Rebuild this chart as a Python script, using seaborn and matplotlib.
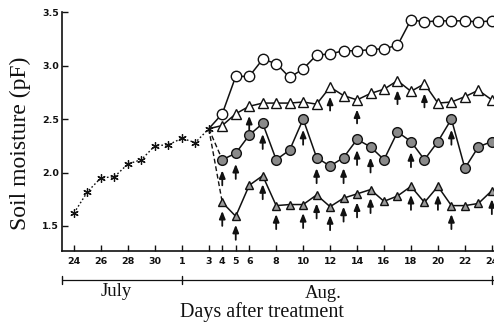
import matplotlib
matplotlib.use("Agg")
import matplotlib.pyplot as plt
import matplotlib.transforms as mtransforms
import seaborn as sns
import pandas as pd

# Day index counted from 24 July (24 Jul = 0, 1 Aug = 8, 24 Aug = 31)
tick_days = [0, 2, 4, 6, 8, 10, 11, 12, 13, 15, 17, 19, 21, 23, 25, 27, 29, 31]
tick_labels = ["24", "26", "28", "30", "1", "3", "4", "5", "6", "8", "10",
               "12", "14", "16", "18", "20", "22", "24"]

# Pre-treatment period (24 Jul - 3 Aug)
pre_days = list(range(0, 11))
pre_vals = [1.62, 1.82, 1.95, 1.96, 2.08, 2.12, 2.25, 2.26, 2.32, 2.28, 2.41]

# Treatments (3 Aug - 24 Aug); first value is the shared 3 Aug reading
trt_days = list(range(10, 32))
open_circle = [2.41, 2.55, 2.90, 2.90, 3.06, 3.02, 2.89, 2.97, 3.10, 3.11, 3.14,
               3.14, 3.15, 3.16, 3.19, 3.43, 3.41, 3.42, 3.42, 3.42, 3.41, 3.42]
open_triangle = [2.41, 2.44, 2.55, 2.62, 2.65, 2.65, 2.65, 2.66, 2.64, 2.80, 2.72,
                 2.68, 2.74, 2.78, 2.86, 2.76, 2.83, 2.65, 2.66, 2.71, 2.77, 2.68]
gray_circle = [2.41, 2.12, 2.18, 2.35, 2.46, 2.12, 2.21, 2.50, 2.14, 2.06, 2.14,
               2.31, 2.24, 2.12, 2.38, 2.29, 2.12, 2.29, 2.50, 2.04, 2.24, 2.29]
gray_triangle = [2.41, 1.72, 1.59, 1.88, 1.97, 1.69, 1.70, 1.70, 1.79, 1.68, 1.76,
                 1.80, 1.84, 1.73, 1.78, 1.87, 1.72, 1.87, 1.69, 1.69, 1.71, 1.83]

# Irrigation days (arrows) for each treatment
arrows_open_triangle = [13, 19, 21, 24, 26]
arrows_gray_circle = [11, 12, 14, 17, 18, 20, 21, 22, 25, 28]
arrows_gray_triangle = [11, 12, 14, 15, 17, 18, 19, 20, 21, 22, 25, 27, 28, 31]

W, H = 494, 324
sns.set_style("ticks")
plt.rcParams["font.family"] = ["DejaVu Sans"]
fig = plt.figure(figsize=(W / 100, H / 100), dpi=100)
ax = fig.add_axes([62 / W, 1 - 251 / H, 1 - 62 / W, (251 - 12.3) / H])

ink = "#111111"
lw = 1.1

# pre-treatment: dotted line with asterisks
pre = pd.DataFrame({"day": pre_days, "pF": pre_vals})
sns.lineplot(data=pre, x="day", y="pF", ax=ax, color=ink, lw=1.0,
             linestyle=(0, (1.2, 1.6)), marker=(6, 2, 0), markersize=6,
             markeredgewidth=0.9, markeredgecolor=ink, zorder=4)

def treatment(vals, marker, face, ms, first_dashed):
    df = pd.DataFrame({"day": trt_days, "pF": vals})
    head, tail = df.iloc[:2], df.iloc[1:]
    if first_dashed:
        sns.lineplot(data=head, x="day", y="pF", ax=ax, color=ink, lw=1.0,
                     linestyle=(0, (3.5, 2)), zorder=3)
    else:
        sns.lineplot(data=head, x="day", y="pF", ax=ax, color=ink, lw=lw, zorder=3)
    sns.lineplot(data=tail, x="day", y="pF", ax=ax, color=ink, lw=lw,
                 marker=marker, markersize=ms, markerfacecolor=face,
                 markeredgecolor=ink, markeredgewidth=1.0, zorder=5)

treatment(open_circle, "o", "white", 7.5, False)
treatment(open_triangle, "^", "white", 6.5, False)
treatment(gray_circle, "o", "#8a8a8a", 7, True)
treatment(gray_triangle, "^", "#9a9a9a", 6, True)

def arrows(days, vals, gap, length):
    lookup = dict(zip(trt_days, vals))
    for d in days:
        v = lookup[d]
        ax.annotate("", xy=(d, v - gap), xytext=(d, v - gap - length),
                    arrowprops=dict(arrowstyle="-|>,head_length=0.45,head_width=0.18",
                                    color=ink, lw=1.3, shrinkA=0, shrinkB=0),
                    zorder=6, annotation_clip=False)

arrows(arrows_open_triangle, open_triangle, 0.09, 0.13)
arrows(arrows_gray_circle, gray_circle, 0.10, 0.14)
arrows(arrows_gray_triangle, gray_triangle, 0.08, 0.14)

# axes styling
ax.set_xlim(-0.89, 31.16)
ax.set_ylim(1.265, 3.5)
ax.set_yticks([1.5, 2.0, 2.5, 3.0, 3.5])
ax.set_yticklabels(["1.5", "2.0", "2.5", "3.0", "3.5"])
ax.set_xticks(tick_days)
ax.set_xticklabels(tick_labels)
for lab in ax.get_xticklabels() + ax.get_yticklabels():
    lab.set_fontweight("bold")
    lab.set_fontsize(6.8)
    lab.set_color(ink)
ax.tick_params(axis="both", direction="in", length=4, width=1.0, color=ink)
ax.tick_params(axis="y", pad=2)
ax.tick_params(axis="x", pad=4)
sns.despine(ax=ax, top=True, right=True)
for s in ("left", "bottom"):
    ax.spines[s].set_linewidth(1.2)
    ax.spines[s].set_color(ink)
ax.set_xlabel("")
ax.set_ylabel("")

# month brackets beneath the axis
trans = mtransforms.blended_transform_factory(ax.transData, ax.transAxes)
yb = -(280 - 251) / (251 - 12.3)
ax.plot([-0.89, 31.16], [yb, yb], transform=trans, color=ink, lw=0.9,
        clip_on=False)
for xd in (-0.89, 8, 31.0):
    ax.plot([xd, xd], [yb - 0.018, yb + 0.018], transform=trans, color=ink,
            lw=1.0, clip_on=False)

serif = ["Liberation Serif", "DejaVu Serif"]
fig.text(116.5 / W, 1 - 292 / H, "July", family=serif, fontsize=13.5,
         ha="center", va="center", color=ink)
fig.text(323 / W, 1 - 293 / H, "Aug.", family=serif, fontsize=13.5,
         ha="center", va="center", color=ink)
fig.text(262 / W, 1 - 312 / H, "Days after treatment", family=serif,
         fontsize=14.5, ha="center", va="center", color=ink)
fig.text(20 / W, 1 - 143 / H, "Soil moisture (pF)", family=serif,
         fontsize=17, rotation=90, ha="center", va="center", color=ink)

fig.savefig("out.png", dpi=100)
